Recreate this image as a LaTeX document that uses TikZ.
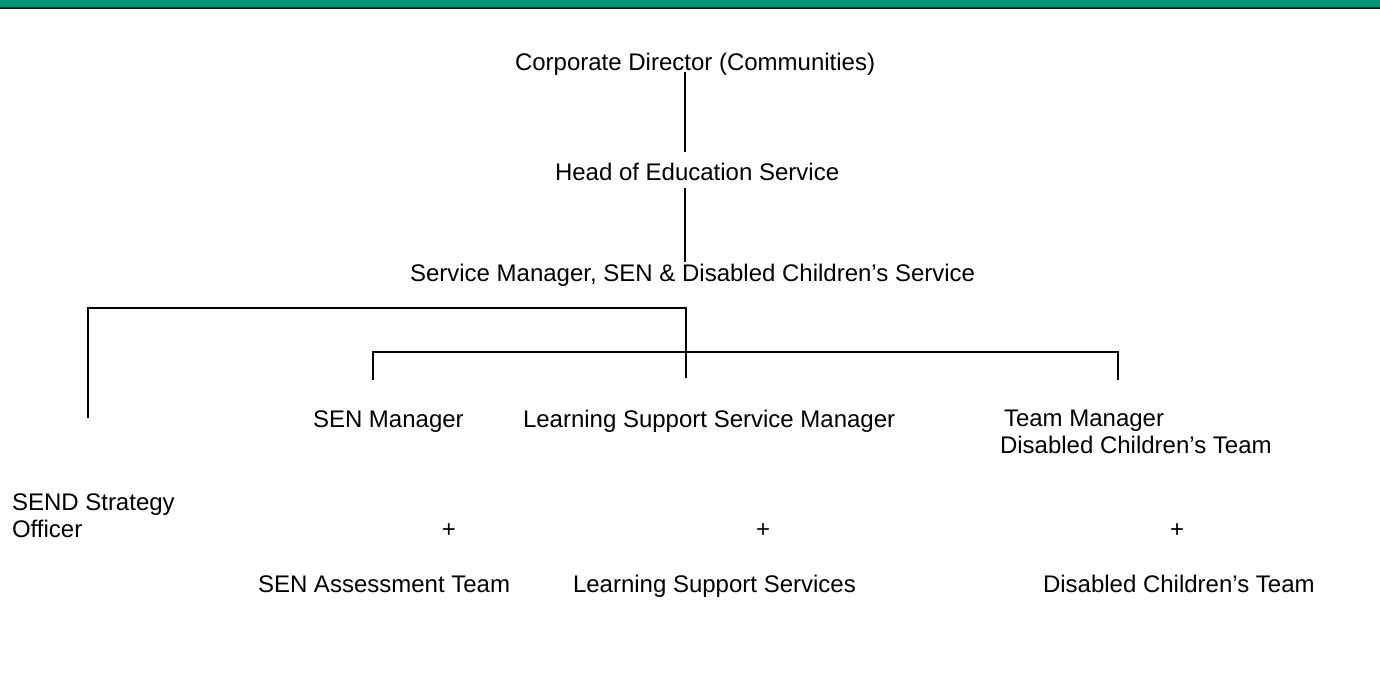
\documentclass[tikz,border=0pt]{standalone}
\usepackage{fontspec}
\setmainfont{Liberation Sans}
\usetikzlibrary{calc}
\definecolor{bandgreen}{RGB}{0,150,120}
\begin{document}
\begin{tikzpicture}[x=0.5pt,y=-0.5pt,
    label/.style={inner sep=0pt,outer sep=0pt,font=\fontsize{12}{13.5}\selectfont,align=left},
    link/.style={line width=1pt,line cap=butt,line join=miter}]
  % page frame and header band
  \useasboundingbox (0,0) rectangle (1380,682);
  \fill[bandgreen] (0,0) rectangle (1380,6.5);
  \fill[black] (0,6.5) rectangle (1380,8.5);

  % posts (multi-line labels are placed by the baseline of their last line)
  \node[label,anchor=base west] (corp) at (515,70) {Corporate Director (Communities)};
  \node[label,anchor=base west] (head) at (555,180) {Head of Education Service};
  \node[label,anchor=base west] (svc)  at (410,281) {Service Manager, SEN \& Disabled Children’s Service};
  \node[label,anchor=base west] (senmgr) at (313,427) {SEN Manager};
  \node[label,anchor=base west] (lssmgr) at (523,427) {Learning Support Service Manager};
  \node[label,anchor=base west] (teammgr) at (1000,453) {\hspace*{2pt}Team Manager\\Disabled Children’s Team};
  \node[label,anchor=base west] (send) at (12,537) {SEND Strategy\\Officer};

  % plus signs and teams
  \node[label,anchor=base] (plusA) at (449,537) {+};
  \node[label,anchor=base] (plusB) at (763,537) {+};
  \node[label,anchor=base] (plusC) at (1177,537) {+};
  \node[label,anchor=base west] (senteam) at (258,592) {SEN Assessment Team};
  \node[label,anchor=base west] (lsteam)  at (573,592) {Learning Support Services};
  \node[label,anchor=base west] (dcteam)  at (1043,592) {Disabled Children’s Team};

  % junction points
  \coordinate (spine)   at (685,0);
  \coordinate (sendtick) at (88,418);
  \coordinate (bus1)    at (686,308);
  \coordinate (midend)  at (686,378);
  \coordinate (b2l)     at (373,380);
  \coordinate (bus2)    at (686,352);
  \coordinate (b2r)     at (1118,380);

  % reporting lines
  \draw[link] ($(corp.base -| spine)+(0,2)$) -- ($(head.base -| spine)+(0,-28)$);
  \draw[link] ($(head.base -| spine)+(0,8)$) -- ($(svc.base -| spine)+(0,-19)$);
  \draw[link] (sendtick) |- (bus1) -- (midend);
  \draw[link] (b2l) |- (bus2) -| (b2r);
\end{tikzpicture}
\end{document}
